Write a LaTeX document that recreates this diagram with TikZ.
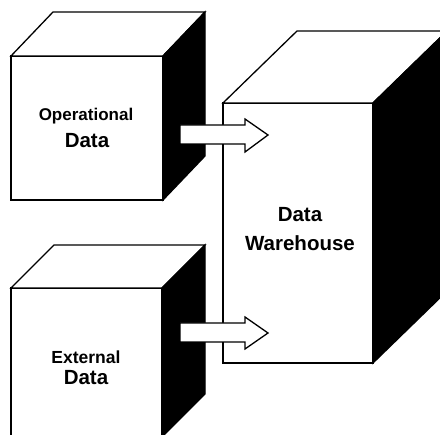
\documentclass[tikz,border=0pt]{standalone}
\usepackage{fontspec}
\setmainfont{Liberation Sans}
\begin{document}
\begin{tikzpicture}[x=1pt,y=-1pt,
  edge/.style={draw=black,line width=1.3pt,line join=miter},
  face/.style={edge,fill=white},
  side/.style={edge,fill=black},
  blockarrow/.style={edge,fill=white},
  lbl/.style={font=\bfseries,align=center,inner sep=0pt}]
\useasboundingbox[fill=white] (0,0) rectangle (440,435);
% Operational cube
\path[face] (11,56) rectangle (163,200);
\path[face] (11,56) -- (53,12) -- (205,12) -- (163,56) -- cycle;
\path[side] (163,56) -- (205,12) -- (205,156) -- (163,200) -- cycle;
% External cube
\path[face] (11,288) rectangle (162,440);
\path[face] (11,288) -- (54,245) -- (205,245) -- (162,288) -- cycle;
\path[side] (162,288) -- (205,245) -- (205,394) -- (162,437) -- cycle;
% Warehouse
\path[face] (223,103) rectangle (373,363);
\path[face] (223,103) -- (297,31) -- (447,31) -- (373,103) -- cycle;
\path[side] (373,103) -- (447,31) -- (447,291) -- (373,363) -- cycle;
% arrows
\path[blockarrow] (180,125) -- (245,125) -- (245,119) -- (268,135) -- (245,152) -- (245,144) -- (180,144) -- cycle;
\path[blockarrow] (180,323) -- (245,323) -- (245,317) -- (268,333) -- (245,349) -- (245,342) -- (180,342) -- cycle;
% labels
\node[lbl] (op1) at (86,116) {\fontsize{17}{20}\selectfont Operational};
\node[lbl] (op2) at (87,141) {\fontsize{20.5}{24}\selectfont Data};
\node[lbl] (dw1) at (300,215) {\fontsize{20.5}{24}\selectfont Data};
\node[lbl] (dw2) at (300,243) {\fontsize{20.5}{24}\selectfont Warehouse};
\node[lbl] (ex1) at (86,357) {\fontsize{17.5}{20}\selectfont External};
\node[lbl] (ex2) at (86,378) {\fontsize{20.5}{24}\selectfont Data};
\end{tikzpicture}
\end{document}
